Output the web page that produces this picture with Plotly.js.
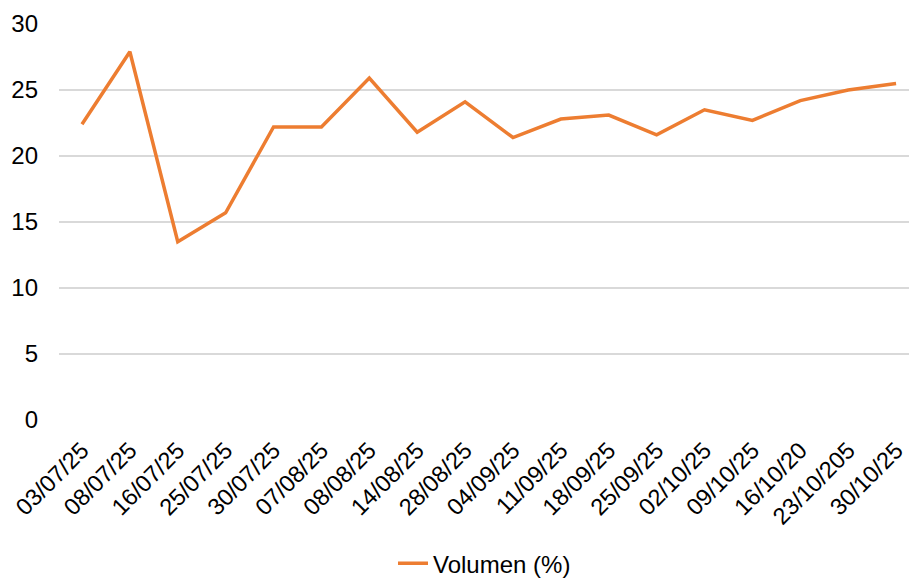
<!DOCTYPE html>
<html>
<head>
<meta charset="utf-8">
<script src="https://cdn.plot.ly/plotly-3.0.1.min.js"></script>
<style>html,body{margin:0;padding:0;background:#fff;}#chart{width:909px;height:580px;}</style>
</head>
<body>
<div id="chart"></div>
<script>
const dates = ["03/07/25","08/07/25","16/07/25","25/07/25","30/07/25","07/08/25","08/08/25","14/08/25","28/08/25","04/09/25","11/09/25","18/09/25","25/09/25","02/10/25","09/10/25","16/10/20","23/10/205","30/10/25"];
const volumen = [22.4,27.9,13.5,15.7,22.2,22.2,25.9,21.8,24.1,21.4,22.8,23.1,21.6,23.5,22.7,24.2,25.0,25.5];
const seriesName = "Volumen (%)";
const yTicks = [0,5,10,15,20,25,30];

const font = {family: "Liberation Sans, Arial, sans-serif", color: "#000000"};

Plotly.newPlot("chart", [{
  type: "scatter",
  mode: "lines",
  x: dates,
  y: volumen,
  name: seriesName,
  line: {color: "#ED7D31", width: 3.5, shape: "linear"},
  showlegend: true
}], {
  width: 909,
  height: 580,
  margin: {l: 59, r: 0, t: 24, b: 160},
  paper_bgcolor: "#ffffff",
  plot_bgcolor: "#ffffff",
  font: Object.assign({size: 24}, font),
  xaxis: {
    type: "category",
    range: [-0.48, 17.27],
    tickangle: -45,
    tickfont: Object.assign({size: 23.5}, font),
    showgrid: false,
    zeroline: false,
    showline: false,
    ticks: "",
    ticklabelstandoff: 11,
    automargin: false,
    fixedrange: true
  },
  yaxis: {
    range: [0, 30],
    tickvals: yTicks,
    ticktext: yTicks.map(String),
    tickfont: Object.assign({size: 24}, font),
    showgrid: true,
    gridcolor: "#d9d9d9",
    gridwidth: 1.5,
    zeroline: false,
    showline: false,
    ticks: "",
    ticklabelstandoff: 20,
    automargin: false,
    fixedrange: true
  },
  showlegend: true,
  legend: {
    orientation: "h",
    xref: "container",
    yref: "container",
    x: 0.533,
    xanchor: "center",
    y: 0.028,
    yanchor: "middle",
    font: Object.assign({size: 24}, font),
    bgcolor: "rgba(0,0,0,0)"
  }
}, {displayModeBar: false, staticPlot: true});
</script>
</body>
</html>
